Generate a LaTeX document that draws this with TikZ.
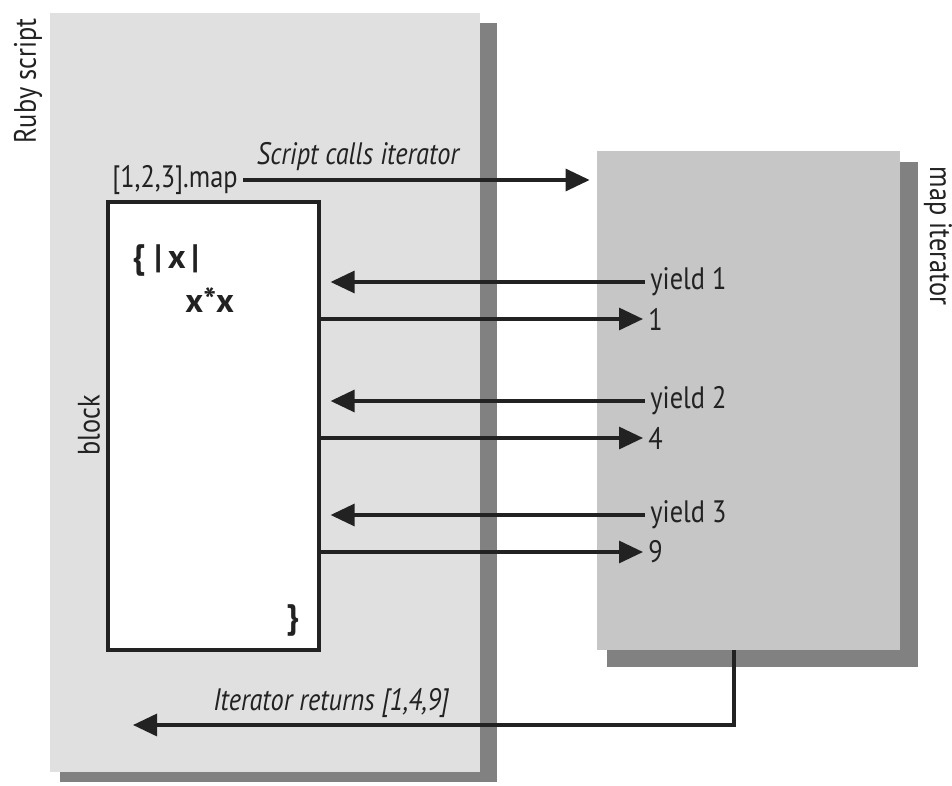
\documentclass[tikz,border=0pt]{standalone}
\usepackage{fontspec}
\setmainfont{PT Sans}[FakeStretch=0.85]
\newfontfamily\codefont{PT Sans}
\usetikzlibrary{fit,arrows.meta}
\definecolor{ltgray}{HTML}{E0E0E0}
\definecolor{dkgray}{HTML}{C6C6C6}
\definecolor{shadowc}{HTML}{818181}
\definecolor{ink}{HTML}{222222}
\begin{document}
\begin{tikzpicture}[x=0.5pt,y=0.5pt,
  lbl/.style={font=\fontsize{15.5}{17}\selectfont,text=ink,inner sep=0pt},
  code/.style={lbl,font=\codefont\fontsize{17}{19}\selectfont\bfseries},
  pane/.style={inner sep=0pt,draw=none},
  arr/.style={draw=ink,line width=1.6pt,-{Triangle[length=12pt,width=11pt]}}]
\useasboundingbox (0,0) rectangle (952,-786);
% panels with their shadows
\fill[shadowc] (60,-23) rectangle (497,-782);
\node[pane,fill=ltgray,fit={(50,-13) (480,-772)}] (ruby) {};
\fill[shadowc] (607,-162) rectangle (918,-667);
\node[pane,fill=dkgray,fit={(597,-151) (900,-650)}] (mapit) {};
\node[pane,draw=ink,fill=white,line width=1.6pt,fit={(108,-202) (319,-650)}] (blk) {};
\node[lbl,rotate=90] at (28,-81) {Ruby script};
\node[lbl,rotate=-90] at (938,-236) {map iterator};
\node[lbl,rotate=90] at (89,-425) {block};
% the code in the block
\node[code,anchor=west] at (132,-260) {\{\;|\,x\,|};
\node[code,anchor=west] at (185,-300) {x*x};
\node[code] at (293,-620) {\}};
% call
\node[lbl,anchor=east] (call) at (238,-180) {[1,2,3].map};
\node[lbl] at (358,-157) {\itshape Script calls iterator};
\draw[arr,shorten <=2.5pt,shorten >=3.5pt] (call.east) -- (mapit.west |- call.east);
% yields
\foreach \i/\y/\r in {1/282/1,2/401/4,3/515/9}{
  \node[lbl,anchor=west] (y\i) at (650,-\y) {yield \i};
  \node[lbl,anchor=west] (r\i) at (648,-\y-37) {\r};
  \draw[arr,shorten <=2.5pt,shorten >=5pt] (y\i.west) -- (blk.east |- y\i.west);
  \draw[arr,shorten >=2.5pt] (blk.east |- r\i.west) -- (r\i.west);
}
% return
\coordinate (ret) at (734,-725);
\coordinate (retend) at (133,-725);
\draw[arr] (mapit.south -| ret) |- (retend);
\node[lbl] at (331,-703) {\itshape Iterator returns [1,4,9]};
\end{tikzpicture}
\end{document}
